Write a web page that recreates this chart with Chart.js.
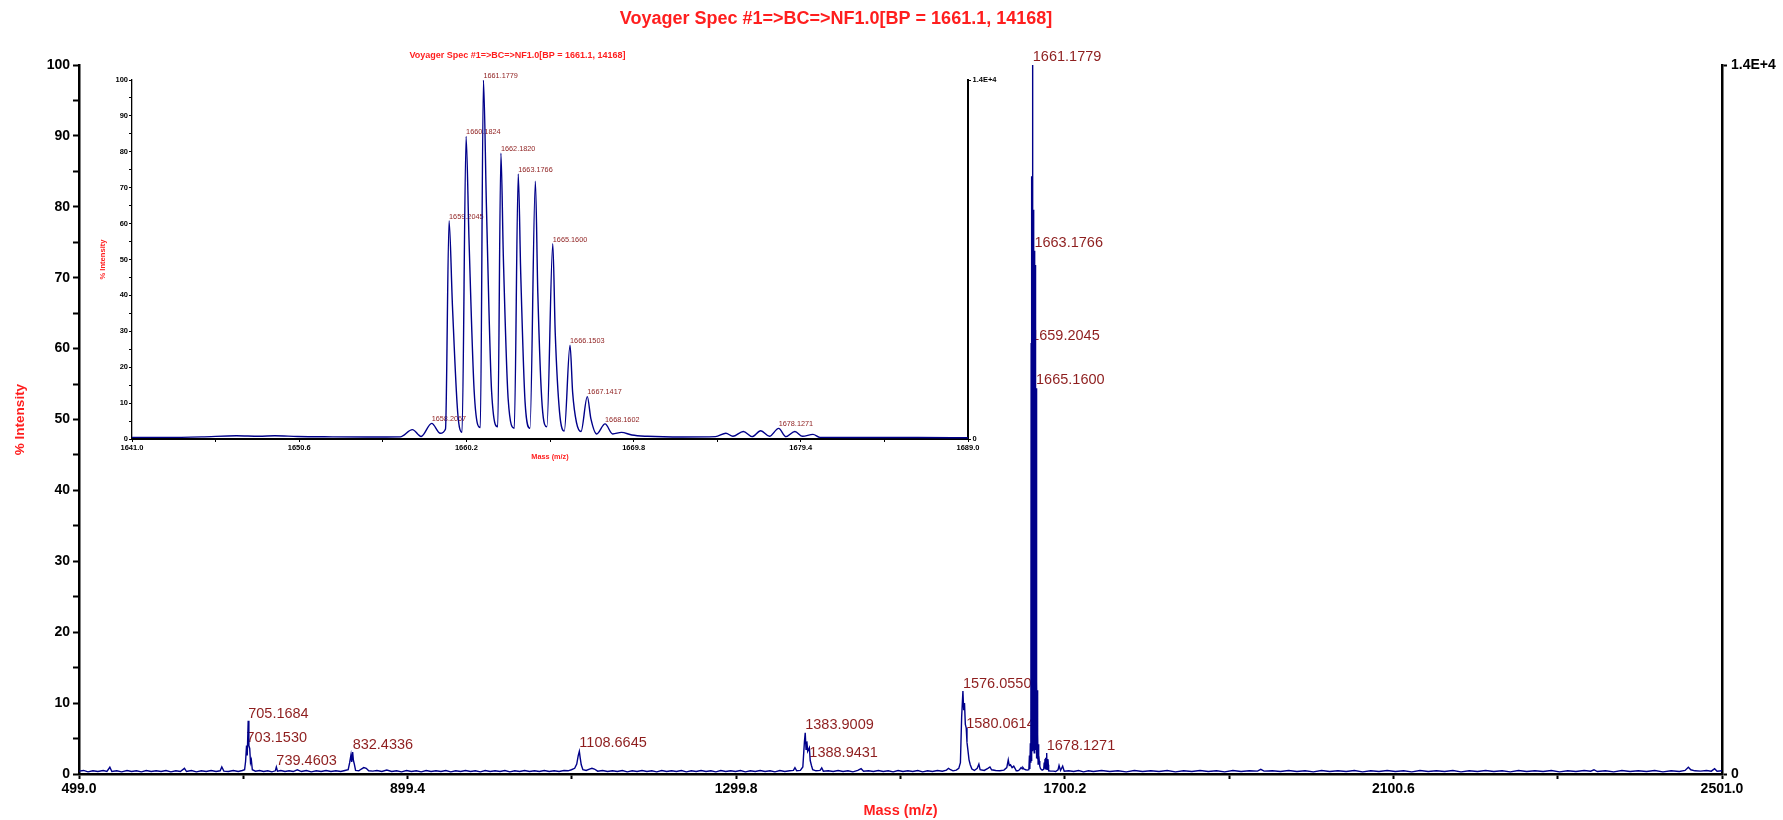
<!DOCTYPE html>
<html>
<head>
<meta charset="utf-8">
<title>Voyager Spec #1</title>
<script src="https://cdn.jsdelivr.net/npm/chart.js@4.4.1/dist/chart.umd.min.js"></script>
<style>
  html, body { margin: 0; padding: 0; background: #fff; }
  #wrap { position: relative; width: 1783px; height: 820px; }
  #mainChart { position: absolute; left: 0; top: 0; }
  #insetChart { position: absolute; left: 80px; top: 40px; }
</style>
</head>
<body>
<div id="wrap">
  <canvas id="mainChart" width="1783" height="820"></canvas>
  <canvas id="insetChart" width="940" height="430"></canvas>
</div>
<script>
// spectrum, [mass, % intensity]
const lowRange = [
  [499.0, 0.40], [504.5, 0.50], [510.0, 0.30], [516.0, 0.45], [522.0, 0.35], [528.5, 0.50],
  [533.0, 0.35], [536.6, 0.95], [539.0, 0.35], [545.0, 0.45], [551.0, 0.30], [557.5, 0.50],
  [563.0, 0.35], [569.0, 0.45], [575.0, 0.30], [581.0, 0.50], [587.0, 0.35], [593.0, 0.45],
  [599.0, 0.35], [605.0, 0.50], [611.0, 0.30], [617.0, 0.45], [622.5, 0.35], [627.5, 0.80],
  [630.0, 0.35], [636.0, 0.50], [642.0, 0.30], [648.0, 0.45], [654.0, 0.35], [660.0, 0.50],
  [666.0, 0.35], [671.0, 0.45], [673.0, 1.00], [675.5, 0.40], [681.0, 0.35], [687.0, 0.50],
  [693.0, 0.35], [698.0, 0.50], [700.8, 0.60], [702.0, 1.80], [703.15, 4.00], [704.0, 2.60],
  [705.17, 7.50], [706.0, 4.00], [707.0, 3.60], [708.0, 1.60], [709.0, 2.00], [710.2, 0.60],
  [714.0, 0.40], [719.0, 0.50], [724.0, 0.35], [729.0, 0.45], [734.0, 0.30], [738.2, 0.45],
  [739.46, 1.00], [740.8, 0.40], [745.0, 0.50], [750.0, 0.35], [755.0, 0.45], [760.0, 0.35],
  [765.0, 0.60], [770.0, 0.35], [776.0, 0.50], [782.0, 0.30], [788.0, 0.45], [794.0, 0.35],
  [800.0, 0.50], [806.0, 0.35], [812.0, 0.45], [818.0, 0.35], [823.0, 0.50], [827.0, 0.60],
  [828.8, 1.60], [830.4, 2.70], [831.3, 1.70], [832.43, 3.10], [833.4, 1.90], [834.5, 1.40],
  [836.0, 0.50], [840.0, 0.45], [843.0, 0.70], [846.0, 0.90], [849.0, 0.80], [852.0, 0.45],
  [857.0, 0.40], [862.0, 0.50], [868.0, 0.35], [874.0, 0.55], [880.0, 0.35], [886.0, 0.45],
  [892.0, 0.30], [898.0, 0.50], [904.0, 0.35], [910.0, 0.45], [916.0, 0.30], [922.0, 0.50],
  [928.0, 0.35], [934.0, 0.45], [940.0, 0.35], [946.0, 0.50], [952.0, 0.30], [958.0, 0.45],
  [964.0, 0.35], [970.0, 0.50], [976.0, 0.35], [982.0, 0.45], [988.0, 0.30], [994.0, 0.50]
];

const midRange = [
  [1000.0, 0.35], [1006.0, 0.45], [1012.0, 0.35], [1018.0, 0.50], [1024.0, 0.30], [1030.0, 0.45],
  [1036.0, 0.35], [1042.0, 0.50], [1048.0, 0.35], [1054.0, 0.45], [1060.0, 0.35], [1066.0, 0.50],
  [1072.0, 0.35], [1078.0, 0.45], [1084.0, 0.35], [1090.0, 0.50], [1095.0, 0.45], [1099.0, 0.60],
  [1103.0, 0.80], [1105.5, 1.40], [1107.3, 2.60], [1108.66, 3.20], [1109.8, 2.20], [1111.0, 1.30],
  [1113.0, 0.60], [1117.0, 0.50], [1121.0, 0.70], [1124.0, 0.80], [1127.0, 0.70], [1131.0, 0.40],
  [1137.0, 0.50], [1143.0, 0.35], [1149.0, 0.45], [1155.0, 0.35], [1161.0, 0.50], [1167.0, 0.30],
  [1173.0, 0.45], [1179.0, 0.35], [1185.0, 0.50], [1191.0, 0.35], [1197.0, 0.45], [1203.0, 0.30],
  [1209.0, 0.50], [1215.0, 0.35], [1221.0, 0.45], [1227.0, 0.35], [1233.0, 0.50], [1239.0, 0.30],
  [1245.0, 0.45], [1251.0, 0.35], [1257.0, 0.50], [1263.0, 0.35], [1269.0, 0.45], [1275.0, 0.30],
  [1281.0, 0.50], [1287.0, 0.35], [1293.0, 0.45], [1299.0, 0.35], [1305.0, 0.50], [1311.0, 0.30],
  [1317.0, 0.45], [1323.0, 0.35], [1329.0, 0.50], [1335.0, 0.35], [1341.0, 0.45], [1347.0, 0.30],
  [1353.0, 0.50], [1359.0, 0.35], [1365.0, 0.45], [1369.5, 0.50], [1371.4, 0.90], [1373.5, 0.45],
  [1378.0, 0.50], [1381.0, 1.00], [1382.9, 4.50], [1383.9, 5.80], [1384.9, 3.50], [1385.9, 4.60],
  [1386.9, 3.20], [1388.94, 3.70], [1390.0, 1.90], [1391.5, 1.20], [1393.0, 0.60], [1397.0, 0.45],
  [1402.0, 0.50], [1404.0, 0.85], [1406.0, 0.40], [1412.0, 0.45], [1418.0, 0.35], [1424.0, 0.50],
  [1430.0, 0.35], [1436.0, 0.45], [1442.0, 0.30], [1448.0, 0.50], [1452.0, 0.75], [1455.0, 0.40],
  [1461.0, 0.45], [1467.0, 0.35], [1473.0, 0.50], [1479.0, 0.35], [1485.0, 0.45], [1491.0, 0.30],
  [1497.0, 0.50], [1503.0, 0.35], [1509.0, 0.45], [1515.0, 0.35], [1521.0, 0.50], [1527.0, 0.30],
  [1533.0, 0.45], [1539.0, 0.35], [1545.0, 0.50], [1551.0, 0.40], [1556.0, 0.55], [1558.5, 0.80],
  [1561.0, 0.60], [1564.0, 0.45], [1568.0, 0.55], [1571.0, 0.80], [1573.0, 1.60], [1574.5, 8.00],
  [1576.055, 11.70], [1577.0, 9.00], [1578.0, 10.00], [1579.0, 7.00], [1580.061, 6.50], [1581.0, 4.50],
  [1582.0, 3.50], [1583.5, 2.00], [1585.0, 1.30], [1587.0, 0.70], [1590.0, 0.50], [1593.5, 0.80],
  [1595.5, 1.40], [1597.0, 0.60], [1602.0, 0.50], [1606.5, 0.80], [1609.0, 1.00], [1611.0, 0.60],
  [1616.0, 0.50], [1621.0, 0.45], [1626.0, 0.55], [1629.5, 0.90], [1631.3, 2.00], [1632.5, 1.20],
  [1634.0, 1.30], [1636.0, 0.90], [1638.0, 1.10], [1640.0, 0.70]
];

// isotope cluster, also the whole inset range
const clusterRange = [
  [1641.0, 0.45], [1643.0, 0.45], [1645.0, 0.60], [1647.0, 0.90], [1648.3, 0.75], [1649.2, 0.90],
  [1650.5, 0.70], [1652.5, 0.60], [1654.5, 0.55], [1656.4, 0.60], [1657.1, 2.60], [1657.6, 0.70],
  [1658.2067, 4.35], [1658.7, 1.60], [1659.0, 2.80], [1659.2045, 60.8], [1659.4, 37.0], [1659.7, 7.4],
  [1659.95, 1.85], [1660.1824, 84.3], [1660.35, 55.5], [1660.65, 13.0], [1661.0, 3.2], [1661.1779, 100],
  [1661.35, 64.8], [1661.65, 13.0], [1662.0, 3.4], [1662.182, 79.6], [1662.32, 51.0], [1662.6, 11.0],
  [1662.95, 3.0], [1663.1766, 73.8], [1663.32, 46.0], [1663.57, 10.2], [1663.85, 3.0], [1664.16, 71.8],
  [1664.3, 40.7], [1664.55, 9.3], [1664.82, 3.4], [1665.16, 54.4], [1665.3, 29.6], [1665.55, 7.4],
  [1665.82, 2.2], [1666.1503, 26.1], [1666.3, 13.0], [1666.52, 4.6], [1666.78, 2.1], [1667.1417, 11.8],
  [1667.35, 5.6], [1667.68, 1.4], [1668.1602, 4.2], [1668.6, 1.4], [1669.1, 1.85], [1669.7, 1.1],
  [1670.6, 0.75], [1672.6, 0.55], [1674.5, 0.65], [1675.1, 1.6], [1675.5, 0.75], [1676.1, 2.1],
  [1676.6, 0.65], [1677.1, 2.3], [1677.6, 0.75], [1678.1271, 2.95], [1678.55, 0.65], [1679.06, 2.1],
  [1679.5, 0.75], [1680.1, 1.3], [1680.5, 0.45], [1683.0, 0.40], [1686.0, 0.40], [1689.0, 0.35]
];

const highRange = [
  [1692.0, 0.60], [1693.2, 1.20], [1695.0, 0.50], [1697.6, 1.10], [1699.5, 0.40], [1705.0, 0.45],
  [1711.0, 0.35], [1717.0, 0.50], [1723.0, 0.30], [1729.0, 0.45], [1735.0, 0.35], [1745.0, 0.50],
  [1755.0, 0.35], [1765.0, 0.45], [1775.0, 0.30], [1785.0, 0.50], [1795.0, 0.35], [1805.0, 0.45],
  [1815.0, 0.35], [1825.0, 0.50], [1835.0, 0.30], [1845.0, 0.45], [1855.0, 0.35], [1865.0, 0.50],
  [1875.0, 0.35], [1885.0, 0.45], [1895.0, 0.30], [1905.0, 0.50], [1915.0, 0.35], [1925.0, 0.45],
  [1935.0, 0.40], [1939.0, 0.65], [1943.0, 0.40], [1953.0, 0.45], [1963.0, 0.35], [1973.0, 0.50],
  [1983.0, 0.35], [1993.0, 0.45], [2003.0, 0.30], [2013.0, 0.50], [2023.0, 0.35], [2033.0, 0.45],
  [2043.0, 0.35], [2053.0, 0.50], [2063.0, 0.30], [2073.0, 0.45], [2083.0, 0.35], [2093.0, 0.50],
  [2103.0, 0.35], [2113.0, 0.45], [2123.0, 0.30], [2133.0, 0.50], [2143.0, 0.35], [2153.0, 0.45],
  [2163.0, 0.35], [2173.0, 0.50], [2183.0, 0.30], [2193.0, 0.45], [2203.0, 0.35], [2213.0, 0.50],
  [2223.0, 0.35], [2233.0, 0.45], [2243.0, 0.30], [2253.0, 0.50], [2263.0, 0.35], [2273.0, 0.45],
  [2283.0, 0.35], [2293.0, 0.50], [2303.0, 0.30], [2313.0, 0.45], [2323.0, 0.35], [2333.0, 0.50],
  [2341.0, 0.40], [2345.0, 0.60], [2349.0, 0.35], [2359.0, 0.45], [2369.0, 0.30], [2379.0, 0.50],
  [2389.0, 0.35], [2399.0, 0.45], [2409.0, 0.35], [2419.0, 0.50], [2429.0, 0.30], [2439.0, 0.45],
  [2449.0, 0.35], [2456.0, 0.50], [2460.0, 0.95], [2463.0, 0.60], [2468.0, 0.45], [2475.0, 0.40],
  [2482.0, 0.50], [2488.0, 0.40], [2492.0, 0.75], [2495.0, 0.40], [2501.0, 0.45]
];

// labelled peaks: [mass, height the label sits on]
const mainPeakLabels = [
  [703.1530, 3.9], [705.1684, 7.3], [739.4603, 0.7], [832.4336, 2.95], [1108.6645, 3.2],
  [1383.9009, 5.7], [1388.9431, 1.8], [1576.0550, 11.5], [1580.0614, 5.95], [1659.2045, 60.6],
  [1661.1779, 100], [1663.1766, 73.7], [1665.1600, 54.4], [1678.1271, 2.8]
];
const insetPeakLabels = [
  [1658.2067, 4.35], [1659.2045, 60.8], [1660.1824, 84.3], [1661.1779, 100], [1662.1820, 79.6],
  [1663.1766, 73.8], [1665.1600, 54.4], [1666.1503, 26.1], [1667.1417, 11.8], [1668.1602, 4.2],
  [1678.1271, 2.95]
];

const mainXTicks = [499.0, 699.2, 899.4, 1099.6, 1299.8, 1500.0, 1700.2, 1900.4, 2100.6, 2300.8, 2501.0];
const insetXTicks = [1641.0, 1645.8, 1650.6, 1655.4, 1660.2, 1665.0, 1669.8, 1674.6, 1679.4, 1684.2, 1689.0];
const countTicks = [0, 100];
const countTickLabels = ["0", "1.4E+4"];

const chartTitle = "Voyager Spec #1=>BC=>NF1.0[BP = 1661.1, 14168]";
const xTitle = "Mass (m/z)";
const yTitle = "% Intensity";

const FONT = "'Liberation Sans', Arial, sans-serif";
const RED = "#ff1e1e";
const PEAK_RED = "#8e1e1e";
const NAVY = "#00008a";

Chart.defaults.font.family = FONT;

const toPoints = (rows) => rows.map(([x, y]) => ({ x, y }));

// peak labels and the title are drawn on the canvas
const peakText = {
  id: "peakText",
  beforeDatasetsDraw(chart, args, opts) {
    const { ctx, scales } = chart;
    ctx.save();
    ctx.fillStyle = PEAK_RED;
    ctx.font = opts.labelFont;
    ctx.textAlign = "left";
    ctx.textBaseline = "bottom";
    opts.labels.forEach(([mass, level]) => {
      const px = scales.x.getPixelForValue(mass);
      const py = scales.y.getPixelForValue(level) - opts.gap;
      ctx.fillText(mass.toFixed(4), px, py);
    });
    ctx.fillStyle = RED;
    ctx.font = opts.titleFont;
    ctx.textAlign = "center";
    ctx.textBaseline = "middle";
    ctx.fillText(chartTitle, opts.titleX, opts.titleY);
    ctx.restore();
  },
};

function axisStyle(width) {
  return { display: true, color: "#000", width: width };
}

function tickGrid(len, width) {
  return { drawOnChartArea: false, drawTicks: true, tickLength: len, tickWidth: width, tickColor: "#000" };
}

new Chart(document.getElementById("mainChart"), {
  type: "line",
  data: {
    datasets: [
      {
        data: toPoints([...lowRange, ...midRange, ...clusterRange, ...highRange]),
        borderColor: NAVY,
        borderWidth: 1.4,
        pointRadius: 0,
        tension: 0,
        fill: false,
        yAxisID: "y",
      },
    ],
  },
  options: {
    responsive: false,
    animation: false,
    devicePixelRatio: 1,
    layout: { padding: { top: 65, left: 0, right: 0, bottom: 0 } },
    plugins: {
      legend: { display: false },
      tooltip: { enabled: false },
      peakText: {
        labels: mainPeakLabels,
        labelFont: "14.5px " + FONT,
        gap: 1,
        titleFont: "bold 18px " + FONT,
        titleX: 836,
        titleY: 19,
      },
    },
    scales: {
      x: {
        type: "linear",
        min: 499,
        max: 2501,
        afterBuildTicks: (axis) => {
          axis.ticks = mainXTicks.map((v) => ({ value: v }));
        },
        afterFit: (axis) => {
          axis.height = 46;
        },
        ticks: {
          autoSkip: false,
          maxRotation: 0,
          padding: 2,
          color: "#000",
          font: { size: 14, weight: "bold" },
          callback: (v, i) => (i % 2 === 0 ? v.toFixed(1) : ""),
        },
        grid: tickGrid(5, 2),
        border: axisStyle(2.5),
        title: {
          display: true,
          text: xTitle,
          color: RED,
          font: { size: 14.5, weight: "bold" },
          padding: { top: 0, bottom: 0 },
        },
      },
      y: {
        position: "left",
        min: 0,
        max: 100,
        afterFit: (axis) => {
          axis.width = 79;
        },
        ticks: {
          stepSize: 5,
          autoSkip: false,
          padding: 3,
          color: "#000",
          font: { size: 14, weight: "bold" },
          callback: (v) => (v % 10 === 0 ? v : ""),
        },
        grid: tickGrid(6, 2),
        border: axisStyle(2.5),
        title: {
          display: true,
          text: yTitle,
          color: RED,
          font: { size: 13.5, weight: "bold" },
          padding: { top: 12, bottom: 0 },
        },
      },
      y2: {
        position: "right",
        min: 0,
        max: 100,
        afterBuildTicks: (axis) => {
          axis.ticks = countTicks.map((v) => ({ value: v }));
        },
        afterFit: (axis) => {
          axis.width = 61;
        },
        ticks: {
          padding: 4,
          color: "#000",
          font: { size: 14, weight: "bold" },
          callback: (v, i) => countTickLabels[i],
        },
        grid: tickGrid(5, 2),
        border: axisStyle(2.5),
      },
    },
  },
  plugins: [peakText],
});

new Chart(document.getElementById("insetChart"), {
  type: "line",
  data: {
    datasets: [
      {
        data: toPoints(clusterRange),
        borderColor: NAVY,
        borderWidth: 1.4,
        pointRadius: 0,
        cubicInterpolationMode: "monotone",
        fill: false,
        yAxisID: "y",
      },
    ],
  },
  options: {
    responsive: false,
    animation: false,
    devicePixelRatio: 1,
    layout: { padding: { top: 40, left: 0, right: 0, bottom: 0 } },
    plugins: {
      legend: { display: false },
      tooltip: { enabled: false },
      peakText: {
        labels: insetPeakLabels,
        labelFont: "7.3px " + FONT,
        gap: 0.5,
        titleFont: "bold 9px " + FONT,
        titleX: 437.5,
        titleY: 15.7,
      },
    },
    scales: {
      x: {
        type: "linear",
        min: 1641,
        max: 1689,
        afterBuildTicks: (axis) => {
          axis.ticks = insetXTicks.map((v) => ({ value: v }));
        },
        afterFit: (axis) => {
          axis.height = 31;
        },
        ticks: {
          autoSkip: false,
          maxRotation: 0,
          padding: 1,
          color: "#000",
          font: { size: 7.5, weight: "bold" },
          callback: (v, i) => (i % 2 === 0 ? v.toFixed(1) : ""),
        },
        grid: tickGrid(3, 1),
        border: axisStyle(2),
        title: {
          display: true,
          text: xTitle,
          color: RED,
          font: { size: 7.3, weight: "bold" },
          padding: { top: 0, bottom: 8.6 },
        },
      },
      y: {
        position: "left",
        min: 0,
        max: 100,
        afterFit: (axis) => {
          axis.width = 52;
        },
        ticks: {
          stepSize: 5,
          autoSkip: false,
          padding: 1,
          color: "#000",
          font: { size: 7.5, weight: "bold" },
          callback: (v) => (v % 10 === 0 ? v : ""),
        },
        grid: tickGrid(3, 1.2),
        border: axisStyle(1.3),
        title: {
          display: true,
          text: yTitle,
          color: RED,
          font: { size: 7.6, weight: "bold" },
          padding: { top: 18.4, bottom: 0 },
        },
      },
      y2: {
        position: "right",
        min: 0,
        max: 100,
        afterBuildTicks: (axis) => {
          axis.ticks = countTicks.map((v) => ({ value: v }));
        },
        afterFit: (axis) => {
          axis.width = 52;
        },
        ticks: {
          padding: 1.5,
          color: "#000",
          font: { size: 7.5, weight: "bold" },
          callback: (v, i) => countTickLabels[i],
        },
        grid: tickGrid(3, 1),
        border: axisStyle(2),
      },
    },
  },
  plugins: [peakText],
});
</script>
</body>
</html>
